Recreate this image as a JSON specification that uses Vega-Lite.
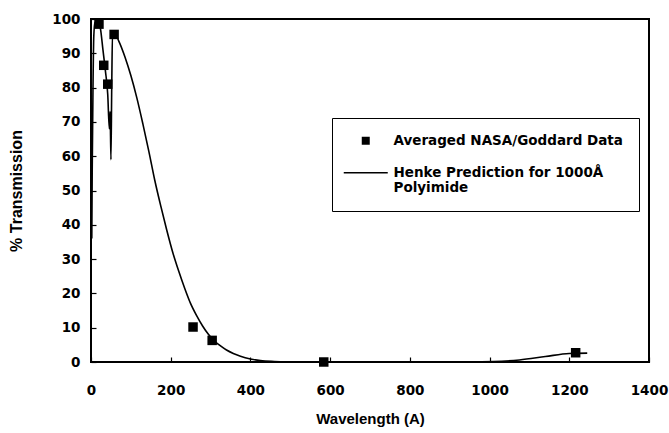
{
  "$schema": "https://vega.github.io/schema/vega-lite/v6.json",
  "width": 558,
  "height": 343,
  "autosize": {"type": "none"},
  "padding": {"left": 91, "top": 19, "right": 20, "bottom": 71},
  "background": "white",
  "datasets": {
    "measured": [
      {"wavelength": 20, "transmission": 98.5, "series": "Averaged NASA/Goddard Data"},
      {"wavelength": 32, "transmission": 86.5, "series": "Averaged NASA/Goddard Data"},
      {"wavelength": 42, "transmission": 81, "series": "Averaged NASA/Goddard Data"},
      {"wavelength": 58, "transmission": 95.5, "series": "Averaged NASA/Goddard Data"},
      {"wavelength": 256, "transmission": 10.2, "series": "Averaged NASA/Goddard Data"},
      {"wavelength": 304, "transmission": 6.3, "series": "Averaged NASA/Goddard Data"},
      {"wavelength": 584, "transmission": 0, "series": "Averaged NASA/Goddard Data"},
      {"wavelength": 1216, "transmission": 2.7, "series": "Averaged NASA/Goddard Data"}
    ],
    "henke": [
      {"wavelength": 2, "transmission": 36},
      {"wavelength": 3, "transmission": 55},
      {"wavelength": 5, "transmission": 80},
      {"wavelength": 7, "transmission": 95},
      {"wavelength": 10, "transmission": 99},
      {"wavelength": 18, "transmission": 99.5},
      {"wavelength": 24, "transmission": 97},
      {"wavelength": 30, "transmission": 91},
      {"wavelength": 36, "transmission": 85},
      {"wavelength": 42, "transmission": 78},
      {"wavelength": 46, "transmission": 68},
      {"wavelength": 48, "transmission": 73},
      {"wavelength": 50, "transmission": 59},
      {"wavelength": 52, "transmission": 80},
      {"wavelength": 54, "transmission": 96},
      {"wavelength": 58, "transmission": 96},
      {"wavelength": 70, "transmission": 93.5},
      {"wavelength": 85, "transmission": 89},
      {"wavelength": 100, "transmission": 83.5},
      {"wavelength": 115, "transmission": 77},
      {"wavelength": 130, "transmission": 69.5},
      {"wavelength": 145, "transmission": 61.5},
      {"wavelength": 160, "transmission": 53},
      {"wavelength": 175, "transmission": 45.5},
      {"wavelength": 190, "transmission": 38.5},
      {"wavelength": 205, "transmission": 32},
      {"wavelength": 220, "transmission": 26.5},
      {"wavelength": 235, "transmission": 21.5},
      {"wavelength": 250, "transmission": 17},
      {"wavelength": 265, "transmission": 13.5},
      {"wavelength": 280, "transmission": 10.5},
      {"wavelength": 295, "transmission": 8},
      {"wavelength": 310, "transmission": 6.1},
      {"wavelength": 325, "transmission": 4.7},
      {"wavelength": 340, "transmission": 3.5},
      {"wavelength": 357, "transmission": 2.5},
      {"wavelength": 375, "transmission": 1.7},
      {"wavelength": 400, "transmission": 0.9},
      {"wavelength": 425, "transmission": 0.4},
      {"wavelength": 460, "transmission": 0.15},
      {"wavelength": 520, "transmission": 0},
      {"wavelength": 650, "transmission": 0},
      {"wavelength": 800, "transmission": 0},
      {"wavelength": 950, "transmission": 0},
      {"wavelength": 1010, "transmission": 0.1},
      {"wavelength": 1075, "transmission": 0.6},
      {"wavelength": 1140, "transmission": 1.6},
      {"wavelength": 1200, "transmission": 2.5},
      {"wavelength": 1245, "transmission": 2.6}
    ]
  },
  "config": {
    "view": {"stroke": "black", "strokeWidth": 2},
    "axis": {
      "grid": false,
      "domain": false,
      "labelFont": "DejaVu Sans",
      "labelFontWeight": "bold",
      "labelFontSize": 13.5,
      "labelColor": "black",
      "labelOverlap": false,
      "labelFlush": false,
      "tickColor": "black",
      "tickWidth": 1.2,
      "tickSize": -5,
      "titleFont": "Liberation Sans",
      "titleFontWeight": "bold",
      "titleColor": "black"
    }
  },
  "encoding": {
    "x": {
      "field": "wavelength",
      "type": "quantitative",
      "scale": {"domain": [0, 1400], "nice": false},
      "axis": {
        "values": [0, 200, 400, 600, 800, 1000, 1200, 1400],
        "format": "d",
        "labelPadding": 26,
        "title": "Wavelength  (A)",
        "titleFontSize": 15,
        "titlePadding": 15
      }
    },
    "y": {
      "field": "transmission",
      "type": "quantitative",
      "scale": {"domain": [0, 100], "nice": false},
      "axis": {
        "values": [0, 10, 20, 30, 40, 50, 60, 70, 80, 90, 100],
        "tickCount": 11,
        "labelOverlap": false,
        "labelPadding": 16,
        "title": "% Transmission",
        "titleFontSize": 16,
        "titlePadding": 27
      }
    }
  },
  "layer": [
    {
      "data": {"name": "henke"},
      "mark": {"type": "line", "color": "black", "strokeWidth": 1.6, "interpolate": "monotone"}
    },
    {
      "data": {"name": "measured"},
      "mark": {"type": "point", "filled": true, "opacity": 1, "color": "black", "size": 90},
      "encoding": {
        "shape": {
          "field": "series",
          "type": "nominal",
          "scale": {
            "domain": ["Averaged NASA/Goddard Data", "Henke Prediction for 1000Å Polyimide"],
            "range": ["square", "M-5.5,-0.2H5.5V0.2H-5.5Z"]
          },
          "legend": {
            "title": null,
            "orient": "none",
            "legendX": 241,
            "legendY": 99,
            "padding": 16,
            "strokeColor": "black",
            "labelFont": "DejaVu Sans",
            "labelFontWeight": "bold",
            "labelFontSize": 13.5,
            "labelColor": "black",
            "labelLimit": 400,
            "labelOffset": 21,
            "rowPadding": 17,
            "symbolSize": 64,
            "symbolOffset": 11,
            "symbolFillColor": "black",
            "symbolStrokeColor": "black",
            "symbolOpacity": 1,
            "labelExpr": "datum.value === 'Henke Prediction for 1000Å Polyimide' ? ['Henke Prediction for 1000Å', 'Polyimide'] : datum.label",
            "encode": {
              "legend": {"update": {"strokeWidth": {"value": 1.2}}},
              "symbols": {
                "update": {
                  "fill": {"value": "black"},
                  "opacity": {"value": 1}
                }
              }
            }
          }
        }
      }
    }
  ]
}
